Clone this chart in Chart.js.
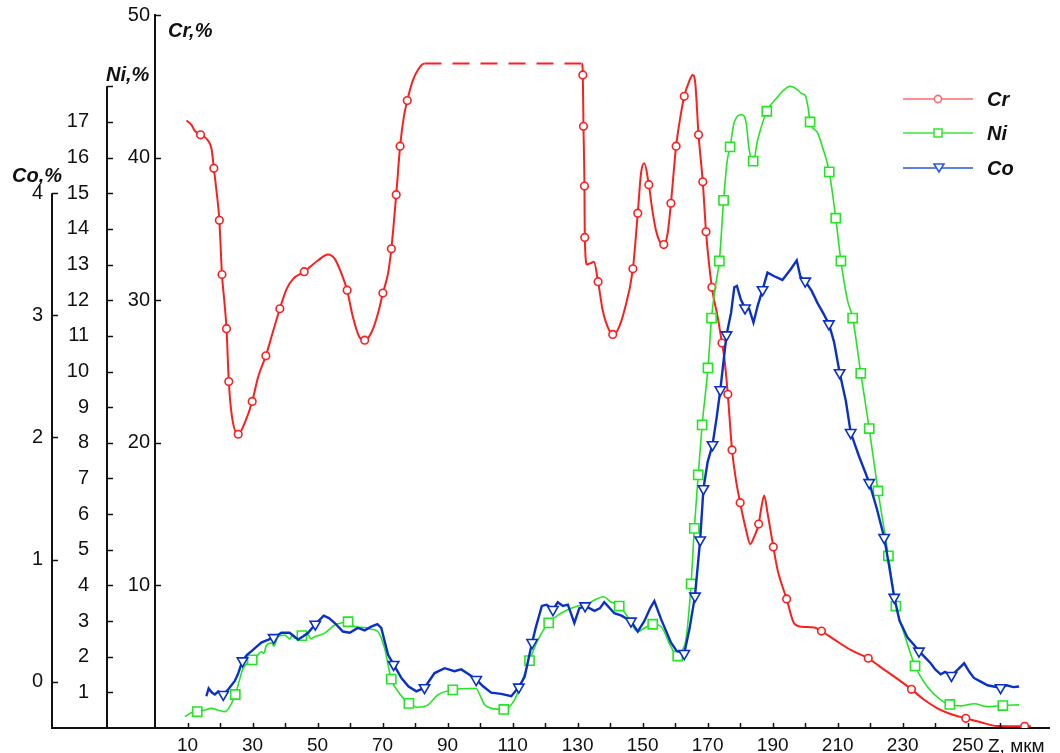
<!DOCTYPE html>
<html><head><meta charset="utf-8">
<script src="https://cdn.jsdelivr.net/npm/chart.js@4.4.1/dist/chart.umd.min.js"></script>
<style>
html,body{margin:0;padding:0;background:#fff;}
#wrap{position:relative;width:1060px;height:753px;overflow:hidden;font-family:"Liberation Sans",Arial,sans-serif;color:#111;}
canvas{position:absolute;left:0;top:0;}
.t{position:absolute;font-weight:bold;font-style:italic;font-size:20px;line-height:20px;white-space:nowrap;}
.lab{position:absolute;font-size:19px;line-height:19px;white-space:nowrap;}
.lgsvg{position:absolute;}
</style></head>
<body><div id="wrap"><canvas id="c" width="1060" height="753"></canvas>
<div class="t" style="left:168px;top:20px">Cr,%</div>
<div class="t" style="left:106px;top:64px">Ni,%</div>
<div class="t" style="left:12px;top:165px">Co,%</div>
<div class="lab" style="left:988px;top:736px">Z, мкм</div>
</div>
<script>
// ---------------- data ----------------
const seriesNames = ['Cr', 'Ni', 'Co'];
const xTickLabels = [10, 30, 50, 70, 90, 110, 130, 150, 170, 190, 210, 230, 250];
const crTickLabels = [10, 20, 30, 40, 50];
const niTickLabels = [1,2,3,4,5,6,7,8,9,10,11,12,13,14,15,16,17];
const coTickLabels = [0, 1, 2, 3, 4];
const niAxisRange = [0, 18];
const coAxisRange = [-0.38, 4];

const crLine = [[9.7,42.6],[11.2,42.3],[12.2,41.9],[16.3,41.2],[17.4,40.6],[19.0,37.5],[21.3,30.0],[23.7,21.8],[27.6,21.4],[31.7,24.6],[36.3,27.8],[40.5,30.8],[42.5,31.5],[48.0,32.4],[50.2,32.8],[53.2,33.2],[55.3,32.9],[57.3,31.9],[60.9,28.8],[62.9,27.4],[66.5,27.7],[68.5,29.0],[71.7,31.9],[76.5,42.8],[79.3,45.4],[81.0,46.2],[82.9,46.6],[131.3,46.6],[132.9,32.5],[134.0,32.6],[135.0,32.7],[137.7,29.3],[139.3,28.1],[142.3,27.9],[144.4,29.3],[149.5,38.9],[150.5,39.6],[153.0,36.3],[154.1,34.9],[155.3,34.1],[157.7,34.7],[161.5,42.7],[164.4,45.4],[165.4,45.8],[166.2,45.2],[173.1,28.8],[175.1,26.0],[178.7,17.4],[181.8,13.9],[183.1,12.9],[184.3,13.4],[186.4,15.3],[187.4,16.3],[188.4,15.1],[191.5,11.1],[196.6,7.34],[199.0,7.1],[202.8,7.05],[209.0,6.2],[214.0,5.47],[223.0,4.3],[227.4,3.6],[236.5,2.0],[240.7,1.38],[244.5,1.0],[254.0,0.4],[259.1,0.14],[269.4,0.12]];
const crMarks = [[14.0,41.6],[18.1,39.25],[19.8,35.6],[20.6,31.8],[22.0,28.0],[22.7,24.3],[25.6,20.6],[29.9,22.9],[34.1,26.1],[38.4,29.4],[45.9,32.0],[59.1,30.7],[64.5,27.2],[70.1,30.5],[72.7,33.6],[74.2,37.4],[75.4,40.8],[77.6,44.0],[131.6,45.8],[131.8,42.2],[132.1,38.0],[132.2,34.4],[136.3,31.3],[140.8,27.6],[147.0,32.2],[148.5,36.1],[151.9,38.1],[156.5,33.9],[158.7,36.8],[160.3,40.8],[162.8,44.3],[167.2,41.6],[168.5,38.3],[169.5,34.8],[171.3,30.9],[174.4,27.0],[176.2,23.4],[177.5,19.5],[180.0,15.8],[185.7,14.3],[190.2,12.7],[194.3,9.05],[205.0,6.8],[219.4,4.89],[232.7,2.71],[249.4,0.68],[267.5,0.12]];

const niLine = [[9.2,0.32],[11.0,0.42],[15.0,0.5],[17.4,0.55],[19.5,0.5],[21.5,0.46],[23.0,0.6],[26.0,1.35],[27.1,1.67],[31.2,2.0],[32.7,2.14],[33.5,2.1],[34.2,2.3],[35.8,2.38],[36.6,2.3],[37.9,2.56],[39.9,2.61],[41.5,2.5],[42.2,2.6],[43.0,2.52],[47.0,2.62],[48.0,2.5],[49.1,2.56],[50.5,2.6],[52.2,2.66],[55.3,2.89],[57.5,2.95],[61.4,2.84],[64.5,2.82],[66.5,2.77],[68.6,2.70],[70.6,2.24],[75.2,0.97],[80.9,0.58],[84.0,0.65],[87.0,0.93],[94.0,1.1],[96.3,1.11],[98.8,1.11],[100.3,0.85],[101.4,0.65],[103.5,0.55],[110.6,0.79],[112.6,1.25],[117.8,2.47],[124.9,3.22],[128.0,3.36],[131.1,3.45],[133.5,3.5],[135.2,3.59],[138.0,3.68],[140.0,3.55],[145.4,3.12],[148.5,2.70],[150.5,2.80],[155.7,2.84],[158.7,2.28],[162.3,2.2],[163.3,2.47],[172.4,12.4],[176.0,15.9],[178.2,17.0],[180.5,17.2],[181.8,17.0],[182.8,16.2],[185.4,16.5],[191.5,17.7],[193.5,17.9],[195.4,18.0],[197.7,17.9],[198.9,17.8],[200.0,17.75],[200.9,17.4],[203.8,16.7],[205.3,16.3],[213.0,12.0],[230.4,2.66],[237.6,1.16],[241.7,0.79],[248.0,0.62],[252.0,0.68],[256.0,0.6],[265.8,0.65]];
const niMarks = [[13.0,0.46],[24.7,0.94],[29.9,1.91],[45.2,2.59],[59.4,2.98],[72.7,1.37],[78.1,0.69],[91.6,1.07],[107.3,0.52],[115.2,1.89],[121.1,2.95],[142.8,3.42],[153.1,2.91],[160.8,2.02],[164.9,4.04],[165.9,5.6],[167.1,7.1],[168.3,8.5],[170.1,10.1],[171.2,11.5],[173.6,13.1],[174.9,14.8],[176.9,16.3],[184.0,15.9],[188.2,17.3],[201.5,17.0],[207.4,15.6],[209.4,14.3],[211.0,13.1],[214.6,11.5],[217.1,9.95],[219.7,8.4],[222.4,6.65],[225.6,4.83],[227.9,3.42],[233.8,1.74],[244.5,0.66],[260.8,0.63]];

const coLine = [[15.8,-0.12],[16.5,-0.056],[17.5,-0.09],[18.4,-0.105],[19.5,-0.08],[22.5,-0.065],[24.5,0.003],[25.5,0.06],[28.3,0.22],[29.7,0.25],[31.0,0.28],[32.7,0.32],[34.5,0.34],[38.9,0.40],[41.4,0.40],[44.0,0.345],[45.5,0.37],[47.1,0.40],[51.9,0.54],[53.5,0.52],[55.3,0.48],[57.8,0.41],[59.9,0.40],[62.4,0.44],[64.5,0.42],[66.5,0.45],[68.4,0.47],[69.6,0.44],[71.7,0.22],[75.8,0.03],[78.0,-0.04],[80.4,-0.08],[86.0,0.07],[89.1,0.11],[92.1,0.085],[94.2,0.10],[96.5,0.06],[101.0,-0.04],[103.4,-0.09],[106.5,-0.10],[109.6,-0.12],[113.7,0.04],[117.2,0.45],[119.0,0.62],[120.5,0.63],[123.9,0.65],[125.5,0.62],[127.0,0.63],[129.0,0.48],[130.5,0.60],[135.2,0.58],[136.8,0.6],[138.2,0.65],[141.3,0.56],[143.5,0.54],[148.5,0.41],[150.5,0.495],[152.3,0.6],[153.6,0.66],[155.7,0.51],[158.7,0.32],[160.5,0.25],[164.4,0.43],[170.0,1.8],[172.7,2.15],[177.2,3.02],[178.2,3.23],[179.0,3.24],[180.2,3.13],[182.8,3.05],[184.1,2.94],[185.4,3.08],[188.4,3.35],[190.5,3.32],[193.0,3.29],[195.6,3.38],[197.4,3.45],[198.5,3.32],[202.0,3.2],[203.8,3.1],[205.5,3.02],[208.9,2.78],[212.5,2.3],[216.5,1.85],[222.0,1.42],[225.8,0.95],[229.0,0.5],[231.5,0.36],[233.5,0.3],[236.8,0.2],[238.6,0.15],[240.0,0.1],[241.7,0.06],[243.0,0.08],[247.0,0.1],[248.9,0.15],[250.5,0.08],[251.9,0.03],[254.0,0.0],[256.1,-0.03],[258.0,-0.04],[262.0,-0.03],[264.0,-0.045],[265.8,-0.04]];
const coMarks = [[21.0,-0.105],[26.9,0.17],[36.5,0.36],[49.3,0.47],[73.4,0.14],[82.9,-0.05],[98.8,0.017],[111.9,-0.045],[116.0,0.32],[122.4,0.59],[132.3,0.62],[146.4,0.495],[162.8,0.23],[166.1,0.70],[167.7,1.16],[168.7,1.58],[171.5,1.94],[173.9,2.39],[175.8,2.84],[181.5,3.06],[186.9,3.21],[200.0,3.28],[207.3,2.93],[210.6,2.53],[214.0,2.04],[219.7,1.63],[224.3,1.18],[227.4,0.69],[235.0,0.25],[245.0,0.05],[260.1,-0.05]];

// ---------------- styles ----------------
const FONT = "'Liberation Sans', Arial, sans-serif";
const AXIS = '#111';
const COLORS = { Cr: '#ff1e1e', Ni: '#22e622', Co: '#0a30c8' };
const LEGEND_COLORS = { Cr: '#ff6a6a', Ni: '#38e838', Co: '#2a58e0' };

function merge(line, marks) {
  return line.map(p => ({ x: p[0], y: p[1], m: false }))
    .concat(marks.map(p => ({ x: p[0], y: p[1], m: true })))
    .sort((a, b) => a.x - b.x);
}

const markR = (r) => (ctx) => (ctx.raw && ctx.raw.m ? r : 0);

const datasets = [
  {
    label: 'Co', yAxisID: 'yCo', data: merge(coLine, coMarks),
    borderColor: COLORS.Co, borderWidth: 2.4, tension: 0,
    pointStyle: 'triangle', pointRotation: 180, pointRadius: markR(6),
    pointBackgroundColor: '#fff', pointBorderColor: COLORS.Co, pointBorderWidth: 1.6, pointHoverRadius: 0
  },
  {
    label: 'Ni', yAxisID: 'yNi', data: merge(niLine, niMarks),
    borderColor: COLORS.Ni, borderWidth: 1.6, cubicInterpolationMode: 'monotone',
    pointStyle: 'rect', pointRadius: markR(6.5),
    pointBackgroundColor: '#fff', pointBorderColor: COLORS.Ni, pointBorderWidth: 1.6, pointHoverRadius: 0
  },
  {
    label: 'Cr', yAxisID: 'yCr', data: merge(crLine, crMarks),
    borderColor: COLORS.Cr, borderWidth: 2, cubicInterpolationMode: 'monotone',
    pointStyle: 'circle', pointRadius: markR(3.8),
    pointBackgroundColor: '#fff', pointBorderColor: COLORS.Cr, pointBorderWidth: 1.6, pointHoverRadius: 0,
    segment: { borderDash: (c) => (c.p1.parsed.x - c.p0.parsed.x > 20 ? [17, 11] : undefined) }
  }
];

const tickFont = { family: FONT, size: 20 };
function yAxis(min, max, step, labels, pad, weight, width, border) {
  return {
    type: 'linear', position: 'left', min, max, weight,
    grid: { display: false, drawTicks: false },
    border: { display: border, color: AXIS, width: 2 },
    ticks: {
      stepSize: step, includeBounds: false, autoSkip: false, padding: pad, color: AXIS, font: tickFont,
      callback: (v) => (labels.some(l => Math.abs(l - v) < 1e-6) ? String(Math.round(v)) : '')
    },
    afterFit: (s) => { s.width = width; s.paddingTop = 0; s.paddingBottom = 0; }
  };
}

const axisDecor = {
  id: 'axisDecor',
  afterDraw(chart) {
    const { ctx, chartArea: a, scales: s } = chart;
    ctx.save();
    ctx.strokeStyle = AXIS;
    ctx.lineWidth = 2;
    ctx.beginPath();
    ctx.moveTo(s.yCo.right - 1, a.bottom); ctx.lineTo(a.left, a.bottom);
    ctx.moveTo(s.yNi.right, a.bottom); ctx.lineTo(s.yNi.right, s.yNi.getPixelForValue(niAxisRange[1]));
    ctx.moveTo(s.yCo.right, a.bottom); ctx.lineTo(s.yCo.right, s.yCo.getPixelForValue(coAxisRange[1]));
    ctx.stroke();
    ctx.lineWidth = 1.5;
    ctx.beginPath();
    const yMarks = (sc, lo, hi) => sc.ticks.forEach(t => {
      if (t.value >= lo - 1e-6 && t.value <= hi + 1e-6) {
        const p = Math.round(sc.getPixelForValue(t.value)) + 0.5;
        ctx.moveTo(sc.right, p); ctx.lineTo(sc.right + 6, p);
      }
    });
    yMarks(s.yCr, crTickLabels[0], crTickLabels[crTickLabels.length - 1]);
    yMarks(s.yNi, niTickLabels[0], niAxisRange[1]);
    yMarks(s.yCo, coTickLabels[0], coAxisRange[1]);
    s.x.ticks.forEach(t => {
      if (t.value >= 10 && t.value <= 260) {
        const p = Math.round(s.x.getPixelForValue(t.value)) + 0.5;
        ctx.moveTo(p, a.bottom); ctx.lineTo(p, a.bottom - 5);
      }
    });
    ctx.stroke();
    ctx.restore();
  }
};

new Chart(document.getElementById('c'), {
  type: 'line',
  data: { datasets },
  options: {
    responsive: false, animation: false, devicePixelRatio: 1, events: [],
    layout: { padding: { left: 0, right: 11, top: 15, bottom: 0 } },
    plugins: { legend: { display: false }, tooltip: { enabled: false } },
    scales: {
      x: {
        type: 'linear', position: 'bottom', min: 0, max: 275,
        grid: { display: false, drawTicks: false },
        border: { display: true, color: AXIS, width: 2 },
        ticks: {
          stepSize: 10, includeBounds: false, autoSkip: false, maxRotation: 0, minRotation: 0,
          padding: 6, color: AXIS, font: { family: FONT, size: 19 },
          callback: (v) => (xTickLabels.includes(v) ? String(v) : '')
        },
        afterFit: (s) => { s.height = 25; s.paddingLeft = 0; s.paddingRight = 0; }
      },
      yCr: yAxis(0, 50, 10, crTickLabels, 5, 0, 48, true),
      yNi: yAxis(0, 20, 1, niTickLabels, 18, 1, 55, false),
      yCo: yAxis(-0.38, 5.46, 1, coTickLabels, 9, 2, 52, false)
    }
  },
  plugins: [axisDecor]
});

// ---------------- legend ----------------
const wrap = document.getElementById('wrap');
const legendY = [99, 133, 168];
seriesNames.forEach((name, i) => {
  const c = LEGEND_COLORS[name];
  let marker = '';
  if (name === 'Cr') marker = `<circle cx="35" cy="8" r="3.6" fill="#fff" stroke="${c}" stroke-width="1.6"/>`;
  if (name === 'Ni') marker = `<rect x="31" y="4" width="8" height="8" fill="#fff" stroke="${c}" stroke-width="1.6"/>`;
  if (name === 'Co') marker = `<polygon points="31,4 41,4 36,12" fill="#fff" stroke="${c}" stroke-width="1.6"/>`;
  const svg = document.createElement('div');
  svg.className = 'lgsvg';
  svg.style.left = '903px';
  svg.style.top = (legendY[i] - 8) + 'px';
  svg.innerHTML = `<svg width="72" height="16"><line x1="0" y1="8" x2="70" y2="8" stroke="${c}" stroke-width="1.6"/>${marker}</svg>`;
  wrap.appendChild(svg);
  const lab = document.createElement('div');
  lab.className = 't';
  lab.style.left = '987px';
  lab.style.top = (legendY[i] - 10) + 'px';
  lab.textContent = name;
  wrap.appendChild(lab);
});
</script>
</body></html>
